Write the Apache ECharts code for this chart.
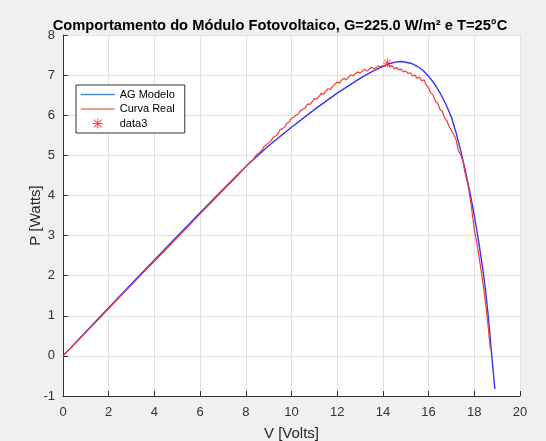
<!DOCTYPE html>
<html>
<head>
<meta charset="utf-8">
<script src="https://cdn.jsdelivr.net/npm/echarts@6/dist/echarts.min.js"></script>
<style>
  html, body { margin: 0; padding: 0; background: #f0f0f0; }
  #chart { width: 546px; height: 441px; }
</style>
</head>
<body>
<div id="chart"></div>
<script>
// Modelled P-V curve (single-diode model fitted by genetic algorithm)
const modelV = [0, 1, 2, 3, 4, 5, 6, 7, 8, 9, 10, 11, 12, 13, 13.5, 14, 14.3, 14.6, 14.8, 15, 15.25, 15.5, 15.75, 16, 16.25, 16.5, 16.75, 17, 17.2, 17.4, 17.6, 17.8, 18.0, 18.2, 18.4, 18.5, 18.6, 18.7, 18.8, 18.9];
const modelP = [0, 0.6, 1.2, 1.8, 2.39, 2.98, 3.57, 4.15, 4.72, 5.24, 5.7, 6.14, 6.55, 6.92, 7.08, 7.22, 7.29, 7.33, 7.34, 7.32, 7.29, 7.22, 7.12, 6.97, 6.79, 6.56, 6.28, 5.95, 5.57, 5.13, 4.63, 4.1, 3.5, 2.82, 2.05, 1.6, 1.05, 0.42, -0.22, -0.83];

// Measured P-V curve
const realV = [0, 0.5, 1, 1.5, 2, 2.5, 3, 3.5, 4, 4.5, 5, 5.5, 6, 6.5, 7, 7.5,
  8.0, 8.1, 8.2, 8.3, 8.4, 8.5, 8.6, 8.7, 8.8, 8.9, 9.0, 9.1, 9.2, 9.3, 9.4, 9.5, 9.6, 9.7, 9.8, 9.9,
  10.0, 10.1, 10.2, 10.3, 10.4, 10.5, 10.6, 10.7, 10.8, 10.9, 11.0, 11.1, 11.2, 11.3, 11.4, 11.5, 11.6, 11.7, 11.8, 11.9,
  12.0, 12.1, 12.2, 12.3, 12.4, 12.5, 12.6, 12.7, 12.8, 12.9, 13.0, 13.1, 13.2, 13.3, 13.4, 13.5, 13.6, 13.7, 13.8, 13.9,
  14.0, 14.1, 14.2, 14.3, 14.4, 14.5, 14.6, 14.7, 14.8, 14.9, 15.0, 15.1, 15.2, 15.3, 15.4, 15.5, 15.6, 15.7, 15.8, 15.9,
  16.0, 16.1, 16.2, 16.3, 16.4, 16.5, 16.6, 16.7, 16.8, 16.9, 17.0, 17.1, 17.2, 17.3, 17.4, 17.5, 17.6, 17.7, 17.8, 17.9,
  18.0, 18.1, 18.2, 18.3, 18.4, 18.5, 18.6, 18.7];
const realP = [0, 0.29, 0.59, 0.88, 1.18, 1.48, 1.77, 2.07, 2.36, 2.65, 2.95, 3.24, 3.54, 3.83, 4.13, 4.41,
  4.72, 4.78, 4.84, 4.87, 4.96, 5.03, 5.07, 5.12, 5.22, 5.26, 5.31, 5.36, 5.45, 5.48, 5.53, 5.64, 5.66, 5.71, 5.80, 5.83,
  5.93, 5.95, 6.01, 6.03, 6.12, 6.15, 6.18, 6.28, 6.27, 6.33, 6.42, 6.40, 6.46, 6.55, 6.52, 6.60, 6.66, 6.64, 6.72, 6.78,
  6.83, 6.80, 6.88, 6.92, 6.88, 6.95, 7.01, 6.98, 7.04, 7.08, 7.05, 7.10, 7.15, 7.10, 7.14, 7.20, 7.16, 7.18, 7.23, 7.20,
  7.24, 7.22, 7.30, 7.20, 7.24, 7.16, 7.19, 7.13, 7.15, 7.08, 7.10, 7.04, 7.06, 6.98, 7.00, 6.92, 6.95, 6.86, 6.88, 6.75,
  6.68, 6.55, 6.50, 6.35, 6.30, 6.14, 6.10, 5.93, 5.86, 5.72, 5.62, 5.52, 5.40, 5.12, 5.02, 4.86, 4.55, 4.32, 4.00, 3.60,
  3.15, 2.85, 2.50, 2.12, 1.72, 1.28, 0.78, 0.18];

// Maximum power point of the measured curve
const mppV = [14.2];
const mppP = [7.30];

const xTicks = { min: 0, max: 20, step: 2 };
const yTicks = { min: -1, max: 8, step: 1 };

const zip = (xs, ys) => xs.map((x, i) => [x, ys[i]]);

// Asterisk marker built from four thin bars
const asterisk = 'path://M9 0L11 0L11 20L9 20Z M0 9L20 9L20 11L0 11Z M1.4 2.8L2.8 1.4L18.6 17.2L17.2 18.6Z M17.2 1.4L18.6 2.8L2.8 18.6L1.4 17.2Z';

const font = 'Liberation Sans, Arial, sans-serif';
const chart = echarts.init(document.getElementById('chart'), null, { renderer: 'canvas' });

chart.setOption({
  backgroundColor: '#f0f0f0',
  animation: false,
  title: {
    text: 'Comportamento do Módulo Fotovoltaico, G=225.0 W/m² e T=25°C',
    left: 275,
    top: 13,
    textAlign: 'center',
    textStyle: { fontFamily: font, fontSize: 14.7, fontWeight: 'bold', color: '#000' }
  },
  grid: {
    left: 63, right: 26, top: 35, bottom: 45,
    show: true, backgroundColor: '#ffffff', borderWidth: 0,
    containLabel: false,
    outerBoundsMode: 'none'
  },
  legend: {
    orient: 'vertical',
    left: 76,
    top: 85,
    padding: [4, 10, 4, 4],
    itemGap: 3.5,
    itemWidth: 34,
    itemHeight: 10,
    backgroundColor: '#ffffff',
    borderColor: '#333333',
    borderWidth: 1,
    textStyle: { fontFamily: font, fontSize: 11, color: '#000' },
    data: [
      { name: 'AG Modelo', lineStyle: { color: '#4a8fd6', width: 1.5 }, itemStyle: { color: '#4a8fd6', opacity: 0 } },
      { name: 'Curva Real', lineStyle: { color: '#e58356', width: 1.5 }, itemStyle: { color: '#e58356', opacity: 0 } },
      { name: 'data3', icon: asterisk, itemStyle: { color: '#ff2020' } }
    ]
  },
  xAxis: {
    type: 'value',
    min: xTicks.min, max: xTicks.max, interval: xTicks.step,
    name: 'V [Volts]',
    nameLocation: 'middle',
    nameGap: 30,
    nameMoveOverlap: false,
    nameTextStyle: { fontFamily: font, fontSize: 15, color: '#262626' },
    axisLine: { show: true, onZero: false, lineStyle: { color: '#333', width: 1 } },
    axisTick: { show: true, inside: true, length: 5, lineStyle: { color: '#333' } },
    axisLabel: { fontFamily: font, fontSize: 13, color: '#333', margin: 10 },
    splitLine: { show: true, lineStyle: { color: '#e2e2e2', width: 1 } }
  },
  yAxis: {
    type: 'value',
    min: yTicks.min, max: yTicks.max, interval: yTicks.step,
    name: 'P [Watts]',
    nameLocation: 'middle',
    nameGap: 20,
    nameMoveOverlap: false,
    nameTextStyle: { fontFamily: font, fontSize: 15, color: '#262626' },
    axisLine: { show: true, onZero: false, lineStyle: { color: '#333', width: 1 } },
    axisTick: { show: true, inside: true, length: 5, lineStyle: { color: '#333' } },
    axisLabel: { fontFamily: font, fontSize: 13, color: '#333', margin: 8 },
    splitLine: { show: true, lineStyle: { color: '#e2e2e2', width: 1 } }
  },
  series: [
    {
      name: 'AG Modelo',
      type: 'line',
      data: zip(modelV, modelP),
      smooth: false,
      symbol: 'none',
      showSymbol: false,
      lineStyle: { color: '#3434f0', width: 1.4 },
      itemStyle: { color: '#3434f0' },
      z: 2
    },
    {
      name: 'Curva Real',
      type: 'line',
      data: zip(realV, realP),
      symbol: 'none',
      showSymbol: false,
      lineStyle: { color: '#f23a3a', width: 1.2 },
      itemStyle: { color: '#f23a3a' },
      z: 3
    },
    {
      name: 'data3',
      type: 'scatter',
      data: zip(mppV, mppP),
      symbol: asterisk,
      symbolSize: 9,
      itemStyle: { color: '#ff2020' },
      z: 4
    }
  ]
});
</script>
</body>
</html>
